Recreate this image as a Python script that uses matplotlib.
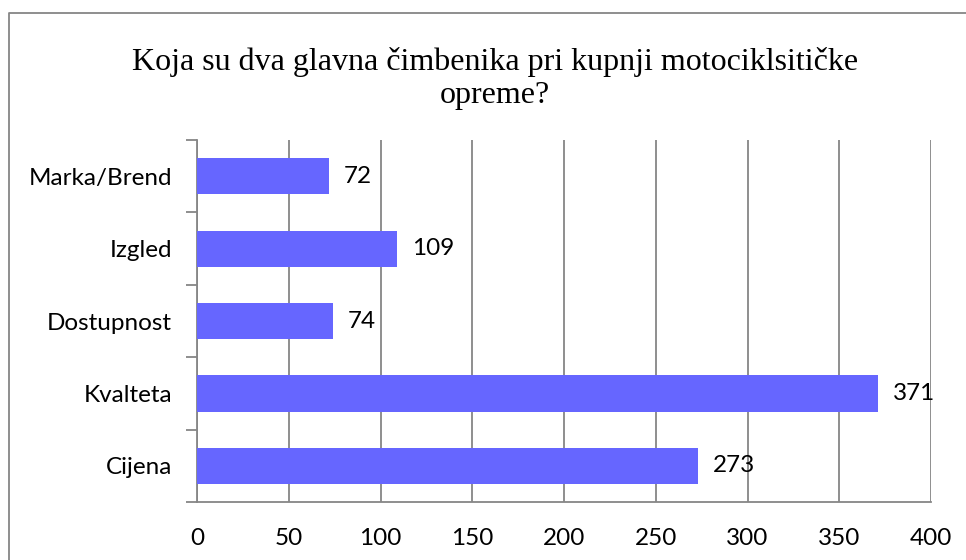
import matplotlib.pyplot as plt
from matplotlib.lines import Line2D

# data
categories = ["Cijena", "Kvalteta", "Dostupnost", "Izgled", "Marka/Brend"]
values = [273, 371, 74, 109, 72]
xticks = [0, 50, 100, 150, 200, 250, 300, 350, 400]

title = "Koja su dva glavna čimbenika pri kupnji motociklsitičke\nopreme?"
bar_color = "#6666FF"
axis_gray = "#868686"
fs = 17.5

fig = plt.figure(figsize=(9.66, 5.6), dpi=100)
ax = fig.add_axes([197/966, 1-502/560, (931-197)/966, (502-140)/560])

ypos = list(range(len(categories)))
ax.barh(ypos, values, height=0.5, color=bar_color, zorder=3)

ax.set_xlim(0, 400)
ax.set_ylim(-0.5, len(categories) - 0.5)
ax.set_xticks(xticks)
ax.set_xticklabels([str(t) for t in xticks], family="Lato", fontsize=fs)
ax.set_yticks(ypos)
ax.set_yticklabels(categories, family="Lato", fontsize=fs)
ax.tick_params(axis="y", length=0, pad=18)
ax.tick_params(axis="x", length=0, pad=19)

# category boundary ticks on the left axis
ax.set_yticks([y - 0.5 for y in range(len(categories) + 1)], minor=True)
ax.tick_params(axis="y", which="minor", length=8, color=axis_gray, width=1.3)

ax.grid(axis="x", color=axis_gray, linewidth=1.3, zorder=0)
for side in ["top", "right"]:
    ax.spines[side].set_visible(False)
for side in ["left", "bottom"]:
    ax.spines[side].set_color(axis_gray)
    ax.spines[side].set_linewidth(1.3)

# small tick stubs below bottom axis
ax.set_xticks(xticks, minor=True)
ax.tick_params(axis="x", which="minor", length=7, color=axis_gray, width=1.3, direction="out")

for y, v in zip(ypos, values):
    ax.text(v + 8, y, str(v), va="center", ha="left", family="Lato", fontsize=fs)

fig.text(0.512, 0.86, title, ha="center", va="center", family="Liberation Serif",
         fontsize=23, linespacing=1.2)

# chart border (left and top visible, the rest is cropped)
fig.add_artist(Line2D([9/966, 9/966, 1.0], [-0.01, 1-13/560, 1-13/560],
                      transform=fig.transFigure, color=axis_gray, linewidth=1.3))

fig.savefig("out.png", dpi=100)
